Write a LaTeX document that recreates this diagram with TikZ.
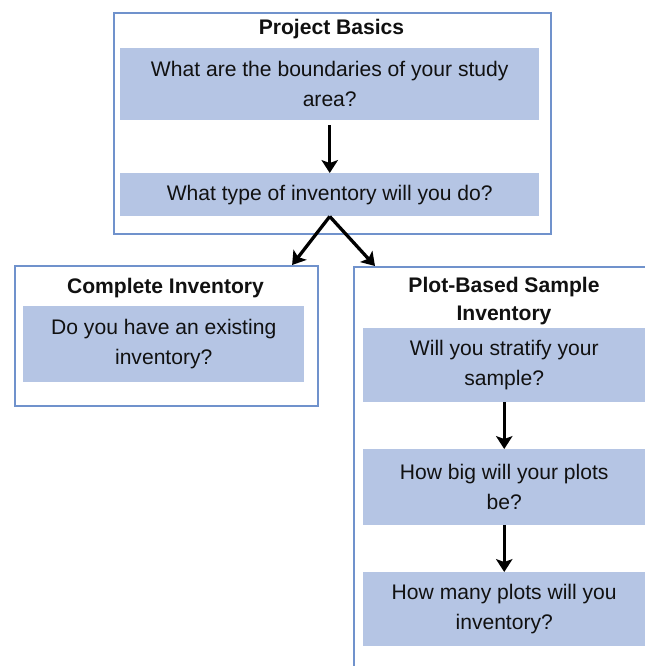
\documentclass[tikz,border=0pt]{standalone}
\usepackage{fontspec}
\setmainfont{Liberation Sans}
\usetikzlibrary{arrows.meta,calc,positioning}
\definecolor{invInk}{HTML}{111111}
\definecolor{invBlue}{HTML}{7092CC}
\definecolor{invFill}{HTML}{B5C5E4}
\tikzset{
  invbox/.style={draw=invBlue, fill=white, line width=1.8pt, anchor=north west},
  invask/.style={fill=invFill, anchor=north west, align=center, text=invInk,
                 font=\fontsize{18pt}{25.5pt}\selectfont},
  invtitle/.style={align=center, text=invInk,
                   font=\fontsize{18pt}{24pt}\selectfont\bfseries},
  invarrow/.style={-{Stealth[length=11pt, width=14pt, inset=2.5pt]}, line width=2.8pt, draw=black}
}

\begin{document}
\begin{tikzpicture}

\useasboundingbox (0,0) rectangle (19.35,-19.98);
\clip (0,0) rectangle (19.35,-19.98);

% project basics
\node[invbox, minimum width=13.11cm, minimum height=6.63cm] (basics) at (3.39,-0.36) {};
\node[invtitle] (basicsT) at (9.945,-0.87) {Project Basics};
\node[invask, minimum width=12.57cm, minimum height=2.16cm] (bounds) at (3.6,-1.44)
{What are the boundaries of your study\\area?};
\node[invask, minimum width=12.57cm, minimum height=1.29cm] (kind) at (3.6,-5.19)
{What type of inventory will you do?};

% complete inventory
\node[invbox, minimum width=9.09cm, minimum height=4.2cm] (complete) at (0.42,-7.95) {};
\node[invtitle] (completeT) at (4.965,-8.64) {Complete Inventory};
\node[invask, minimum width=8.43cm, minimum height=2.28cm] (existing) at (0.69,-9.18)
{Do you have an existing\\inventory?};

% plot-based sample inventory
\node[invbox, minimum width=9.06cm, minimum height=12.9cm] (sample) at (10.59,-7.98) {};
\node[invtitle] (sampleT) at (15.12,-9.03) {Plot-Based Sample\\Inventory};
\node[invask, minimum width=8.46cm, minimum height=2.22cm] (stratify) at (10.89,-9.84)
{Will you stratify your\\sample?};
\node[invask, minimum width=8.46cm, minimum height=2.28cm] (plotsize) at (10.89,-13.47)
{How big will your plots\\be?};
\node[invask, minimum width=8.46cm, minimum height=2.22cm] (plotcount) at (10.89,-17.16)
{How many plots will you\\inventory?};

\draw[invarrow, shorten <=0.15cm] (bounds.south) -- (kind.north);
\draw[invarrow] (kind.south) -- ([xshift=-0.81cm]complete.north east);
\draw[invarrow] (kind.south) -- ([xshift=0.66cm]sample.north west);
\draw[invarrow] (stratify.south) -- (plotsize.north);
\draw[invarrow] (plotsize.south) -- (plotcount.north);

\end{tikzpicture}
\end{document}
